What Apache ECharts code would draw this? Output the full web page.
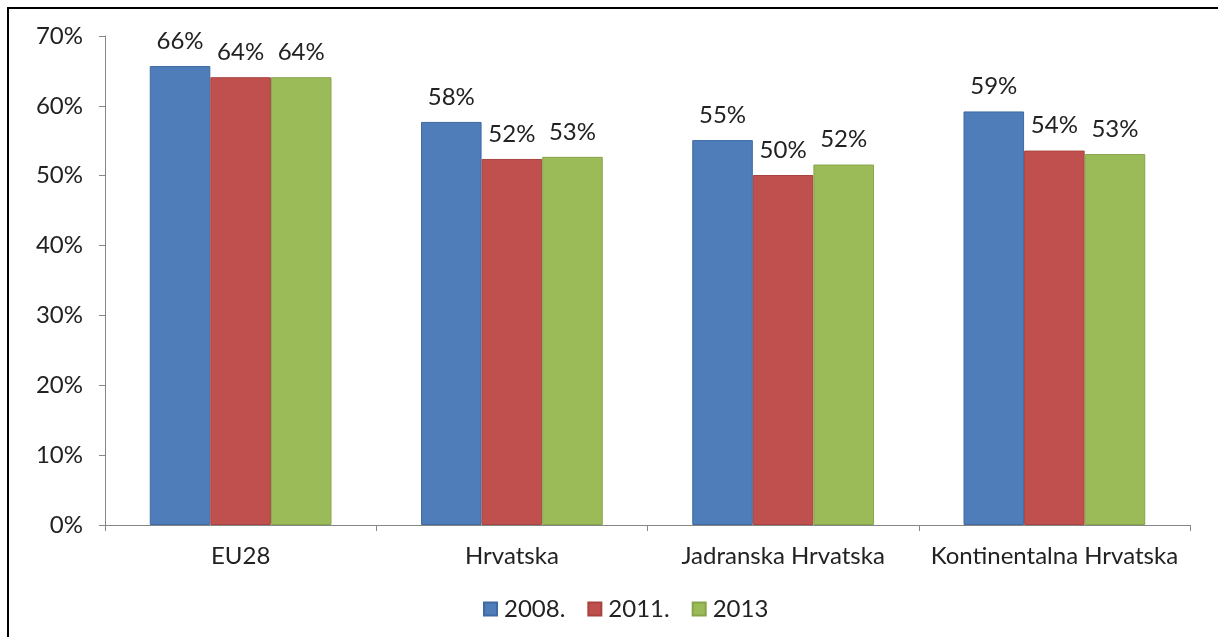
<!DOCTYPE html>
<html>
<head>
<meta charset="utf-8">
<script src="https://cdn.jsdelivr.net/npm/echarts@6/dist/echarts.min.js"></script>
<style>
  html, body { margin: 0; padding: 0; background: #fff; }
  #frame { position: absolute; left: 7px; top: 7px; width: 1300px; height: 700px;
           border-left: 2px solid #000; border-top: 2px solid #000; }
  #echarts { position: absolute; left: 0; top: 0; width: 1218px; height: 637px; }
</style>
</head>
<body>
<div id="frame"></div>
<div id="echarts"></div>
<script>
var categories = ['EU28', 'Hrvatska', 'Jadranska Hrvatska', 'Kontinentalna Hrvatska']
var seriesNames = ['2008.', '2011.', '2013']
var data2008 = [65.7, 57.7, 55.1, 59.2]
var data2011 = [64.1, 52.4, 50.1, 53.6]
var data2013 = [64.1, 52.7, 51.6, 53.1]
var colors = ['#4f7dba', '#c0504d', '#9bbb59']
var borders = ['#3f6aa2', '#a84340', '#86a54a']

var myChart = echarts.init(document.getElementById('echarts'))
var font = 'Lato'

function makeSeries(name, values, i) {
  return {
    name: name,
    type: 'bar',
    data: values,
    barGap: '0%',
    barCategoryGap: '33%',
    itemStyle: { color: colors[i], borderColor: borders[i], borderWidth: 1 },
    label: {
      show: true,
      position: 'top',
      distance: 13,
      color: '#222',
      fontFamily: font,
      fontSize: 24,
      formatter: function (p) { return Math.round(p.value) + '%' }
    }
  }
}

var option = {
  backgroundColor: 'rgba(255,255,255,0)',
  animation: false,
  grid: { left: 105, right: 28, top: 36, bottom: 112 },
  legend: {
    data: seriesNames,
    bottom: 11,
    left: 478,
    itemWidth: 13,
    itemHeight: 13,
    itemGap: 22,
    icon: 'rect',
    textStyle: { fontFamily: font, fontSize: 24, color: '#222', padding: [0, 0, 0, 2] }
  },
  xAxis: {
    type: 'category',
    data: categories,
    axisLine: { lineStyle: { color: '#868686', width: 1 } },
    axisTick: { show: true, length: 6, lineStyle: { color: '#868686' } },
    axisLabel: { interval: 0, fontFamily: font, fontSize: 24, color: '#222', margin: 19 }
  },
  yAxis: {
    type: 'value',
    min: 0,
    max: 70,
    interval: 10,
    axisLine: { show: true, lineStyle: { color: '#868686', width: 1 } },
    axisTick: { show: true, length: 6, lineStyle: { color: '#868686' } },
    splitLine: { show: false },
    axisLabel: { formatter: '{value}%', fontFamily: font, fontSize: 24, color: '#222', margin: 22 }
  },
  series: [
    makeSeries(seriesNames[0], data2008, 0),
    makeSeries(seriesNames[1], data2011, 1),
    makeSeries(seriesNames[2], data2013, 2)
  ]
}

myChart.setOption(option)
</script>
</body>
</html>
